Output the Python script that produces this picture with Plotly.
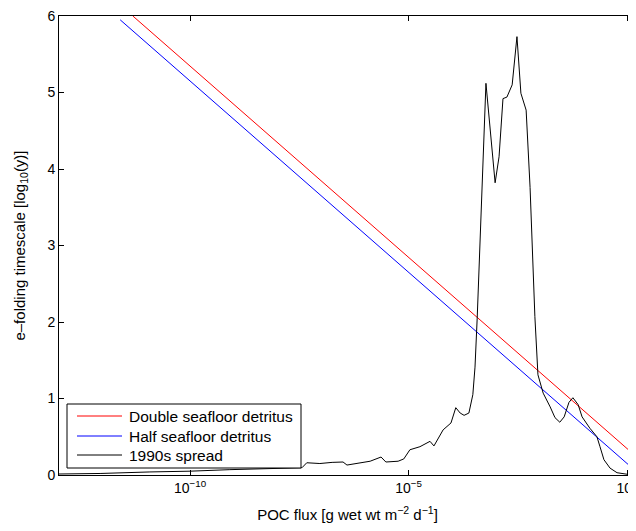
import numpy as np
import plotly.graph_objects as go

# ---- data ----
series_names = ["Double seafloor detritus", "Half seafloor detritus", "1990s spread"]
series_colors = ["#ff0000", "#0000ff", "#000000"]

red_logflux = [-11.31, -10.0, -5.0, 0.0, 0.25]
red_y = [6.0, 5.345, 2.845, 0.345, 0.22]

blue_logflux = [-11.6, -10.0, -5.0, 0.0, 0.25]
blue_y = [5.95, 5.15, 2.65, 0.15, 0.025]

black_logflux = [-13.0, -12.06, -10.92, -10.0, -9.09, -8.17, -7.44, -7.33, -7.03, -6.75,
                 -6.50, -6.41, -6.16, -5.88, -5.63, -5.52, -5.24, -5.11, -4.97, -4.74,
                 -4.51, -4.42, -4.21, -4.03, -3.92, -3.82, -3.73, -3.62, -3.53, -3.48,
                 -3.43, -3.23, -3.02, -2.93, -2.84, -2.75, -2.63, -2.52, -2.43, -2.31,
                 -2.22, -2.11, -2.04, -1.92, -1.76, -1.65, -1.54, -1.44, -1.33, -1.24,
                 -1.12, -1.03, -0.85, -0.69, -0.62, -0.53, -0.39, -0.23, 0.0]
black_y = [0.013, 0.02, 0.04, 0.05, 0.07, 0.085, 0.095, 0.16, 0.15, 0.165,
           0.17, 0.13, 0.157, 0.18, 0.235, 0.17, 0.18, 0.21, 0.33, 0.37,
           0.44, 0.38, 0.59, 0.68, 0.88, 0.81, 0.78, 0.81, 1.05, 1.41,
           2.05, 5.12, 3.82, 4.16, 4.92, 4.94, 5.10, 5.73, 4.99, 4.77,
           3.76, 2.07, 1.31, 1.07, 0.89, 0.75, 0.69, 0.76, 0.95, 1.01,
           0.92, 0.76, 0.61, 0.50, 0.37, 0.20, 0.09, 0.03, 0.01]

x_tickvals = [1e-10, 1e-5, 1]
x_ticktext = ["10<sup>\u221210</sup>", "10<sup>\u22125</sup>", "10<sup>0</sup>"]
y_tickvals = [0, 1, 2, 3, 4, 5, 6]

FONT = "Liberation Sans, Arial, Helvetica, sans-serif"

fig = go.Figure()
for name, color, lx, yy in zip(series_names, series_colors,
                               [red_logflux, blue_logflux, black_logflux],
                               [red_y, blue_y, black_y]):
    fig.add_trace(go.Scatter(x=10 ** np.array(lx), y=yy, mode="lines",
                             line=dict(color=color, width=1), name=name, showlegend=False))

# ---- MATLAB-style legend box (paper coordinates of the plot area) ----
W, H = 577.0, 459.0
fig.add_shape(type="rect", xref="paper", yref="paper",
              x0=8 / W, x1=242 / W, y0=7 / H, y1=71 / H,
              line=dict(color="black", width=1), fillcolor="white", layer="above")
entry_offsets = [59, 39, 20]  # px above the bottom of the plot area
for name, color, off in zip(series_names, series_colors, entry_offsets):
    fig.add_shape(type="line", xref="paper", yref="paper",
                  x0=18 / W, x1=63 / W, y0=off / H, y1=off / H,
                  line=dict(color=color, width=1), layer="above")
    fig.add_annotation(xref="paper", yref="paper", x=68 / W, y=off / H,
                       xanchor="left", yanchor="middle", showarrow=False, text=name,
                       font=dict(size=15.5, family=FONT, color="black"))

fig.update_layout(
    width=628, height=515,
    margin=dict(l=51, r=0, t=8, b=48, autoexpand=False),
    paper_bgcolor="white", plot_bgcolor="white",
    font=dict(family=FONT, size=14, color="black"),
    showlegend=False,
)
fig.update_xaxes(type="log", range=[-13, 0.204], tickvals=x_tickvals, ticktext=x_ticktext,
                 ticks="inside", ticklen=5, tickcolor="black", showline=True, linecolor="black",
                 linewidth=1, mirror="ticks", showgrid=False, zeroline=False, automargin=False,
                 ticklabeloverflow="allow", tickfont=dict(size=14, family=FONT),
                 title=dict(text="POC flux [g wet wt m<sup>\u22122</sup> d<sup>\u22121</sup>]",
                            font=dict(size=15, family=FONT), standoff=15))
fig.update_yaxes(range=[0, 6], tickvals=y_tickvals, ticks="inside", ticklen=5, tickcolor="black",
                 showline=True, linecolor="black", linewidth=1, mirror="ticks", automargin=False,
                 ticklabeloverflow="allow",
                 showgrid=False, zeroline=False, tickfont=dict(size=14, family=FONT),
                 title=dict(text="e\u2013folding timescale [log<sub>10</sub>(y)]",
                            font=dict(size=15, family=FONT), standoff=18))

fig.write_html("out.html")
